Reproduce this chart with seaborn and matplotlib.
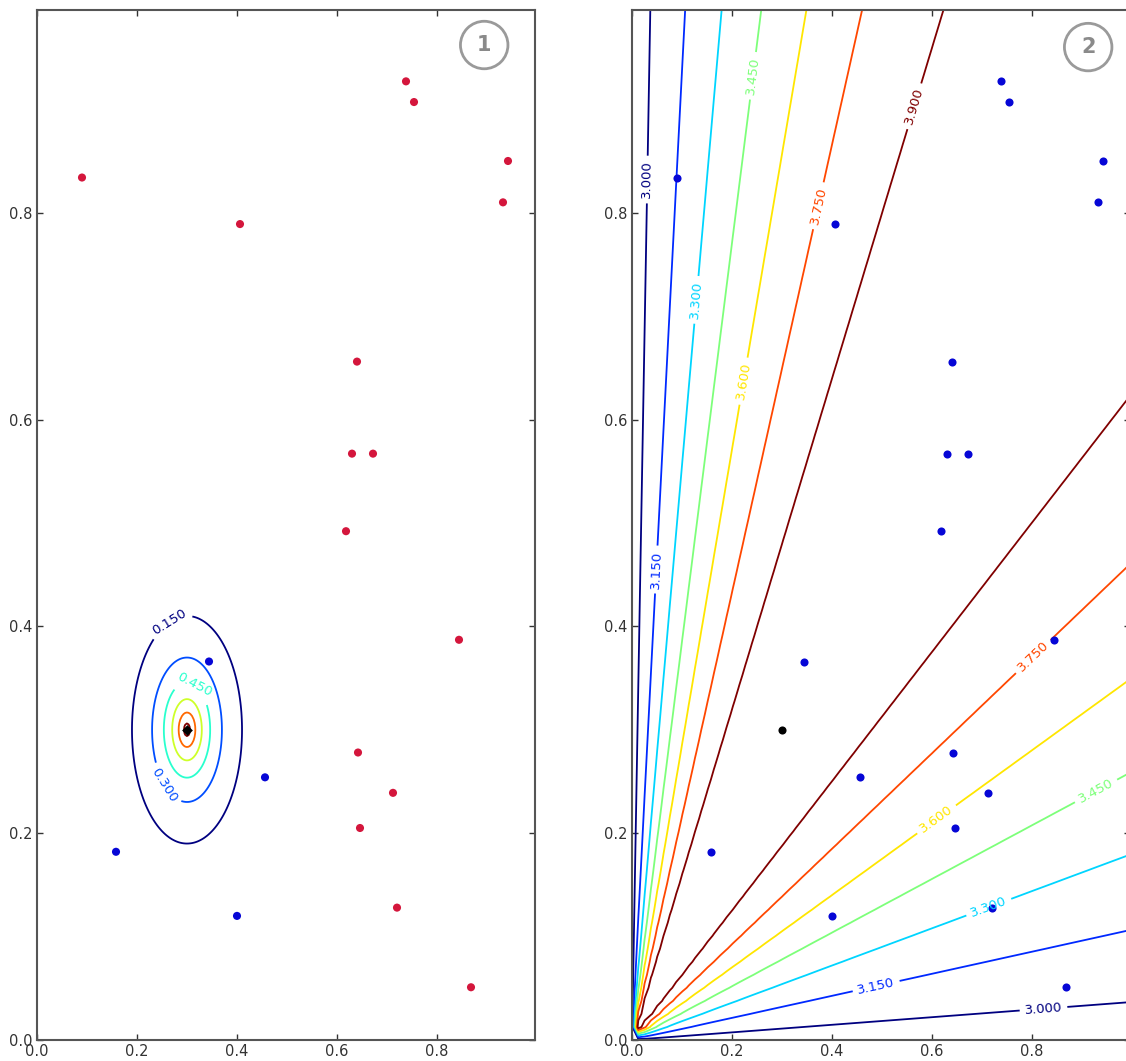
import numpy as np
import pandas as pd
import matplotlib
matplotlib.use("Agg")
import matplotlib.pyplot as plt
import seaborn as sns

# points (same 20 points in both panels)
red_x = [0.090, 0.406, 0.738, 0.754, 0.942, 0.932, 0.640, 0.630, 0.672, 0.618,
         0.844, 0.642, 0.712, 0.646, 0.720, 0.868]
red_y = [0.834, 0.789, 0.927, 0.907, 0.850, 0.810, 0.656, 0.567, 0.567, 0.492,
         0.387, 0.278, 0.239, 0.205, 0.128, 0.051]
blue_x = [0.344, 0.456, 0.158, 0.400]
blue_y = [0.366, 0.254, 0.182, 0.120]
center_x = [0.300]
center_y = [0.300]

# contour fields
left_levels = [0.15, 0.30, 0.45, 0.60, 0.75, 0.90]
left_labeled = [0.15, 0.30, 0.45]
left_scale = 0.058
right_levels = [3.00, 3.15, 3.30, 3.45, 3.60, 3.75, 3.90]
right_base = 2.92
right_amp = 1.09

left_label_pos = [(0.266, 0.404), (0.256, 0.247), (0.318, 0.345)]
right_label_pos = [(0.036, 0.832), (0.046, 0.455), (0.122, 0.716), (0.232, 0.933),
                   (0.212, 0.638), (0.361, 0.808), (0.557, 0.904),
                   (0.824, 0.024), (0.493, 0.042), (0.717, 0.124), (0.938, 0.232),
                   (0.617, 0.208), (0.818, 0.363)]

sns.set_style("ticks")
plt.rcParams['font.family'] = ['DejaVu Sans']

df = pd.DataFrame({
    'x': red_x + blue_x,
    'y': red_y + blue_y,
    'grupo': ['red'] * len(red_x) + ['blue'] * len(blue_x),
})

fig = plt.figure(figsize=(11.26, 10.61), dpi=100)
W, H = 1126, 1061
ax1 = fig.add_axes([37 / W, 21 / H, 498 / W, 1030 / H])
ax2 = fig.add_axes([632 / W, 21 / H, 498 / W, 1030 / H])

lim = 0.996

# %% painel 1
g = np.linspace(0, lim, 300)
X, Y = np.meshgrid(g, g)
R = np.sqrt((X - center_x[0]) ** 2 + (Y - center_y[0]) ** 2)
Z1 = np.exp(-R / left_scale)
cs1 = ax1.contour(X, Y, Z1, levels=left_levels, cmap='jet', linewidths=1.3)
ax1.clabel(cs1, levels=left_labeled, fmt='%.3f', fontsize=9.5, inline=True,
           manual=left_label_pos)
sns.scatterplot(data=df, x='x', y='y', hue='grupo',
                palette={'red': '#d4163c', 'blue': '#0606d6'},
                s=34, linewidth=0, legend=False, ax=ax1, zorder=3)
sns.scatterplot(x=center_x, y=center_y, color='black', marker='D', s=30,
                linewidth=0, ax=ax1, zorder=4)

# %% painel 2
g2 = np.linspace(0, lim, 80)
X2, Y2 = np.meshgrid(g2, g2)
R2 = X2 ** 2 + Y2 ** 2
R2[R2 == 0] = np.inf
Z2 = right_base + right_amp * 2 * X2 * Y2 / R2
cs2 = ax2.contour(X2, Y2, Z2, levels=right_levels, cmap='jet', linewidths=1.3)
ax2.clabel(cs2, fmt='%.3f', fontsize=9.5, inline=True, manual=right_label_pos)
sns.scatterplot(data=df, x='x', y='y', color='#0606d6', s=34, linewidth=0,
                legend=False, ax=ax2, zorder=3)
sns.scatterplot(x=center_x, y=center_y, color='black', s=34, linewidth=0,
                ax=ax2, zorder=4)

for ax, num, pos in [(ax1, '1', (0.898, 0.966)), (ax2, '2', (0.916, 0.964))]:
    ax.set_xlim(0, lim)
    ax.set_ylim(0, lim)
    ax.set_xticks([0, 0.2, 0.4, 0.6, 0.8])
    ax.set_yticks([0, 0.2, 0.4, 0.6, 0.8])
    ax.set_xticklabels(['0.0', '0.2', '0.4', '0.6', '0.8'])
    ax.set_yticklabels(['0.0', '0.2', '0.4', '0.6', '0.8'])
    ax.tick_params(direction='in', length=4, width=1, labelsize=10.5,
                   colors='#333333', top=True, right=True, pad=3)
    ax.set_xlabel('')
    ax.set_ylabel('')
    for sp in ax.spines.values():
        sp.set_color('#555555')
        sp.set_linewidth(1.5)
    ax.text(pos[0], pos[1], num, transform=ax.transAxes, ha='center', va='center',
            fontsize=15, fontweight='bold', color='#8a8a8a', zorder=5,
            bbox=dict(boxstyle='circle,pad=0.66', fc='white', ec='#9a9a9a', lw=2))

fig.savefig('out.png', dpi=100, facecolor='white')
